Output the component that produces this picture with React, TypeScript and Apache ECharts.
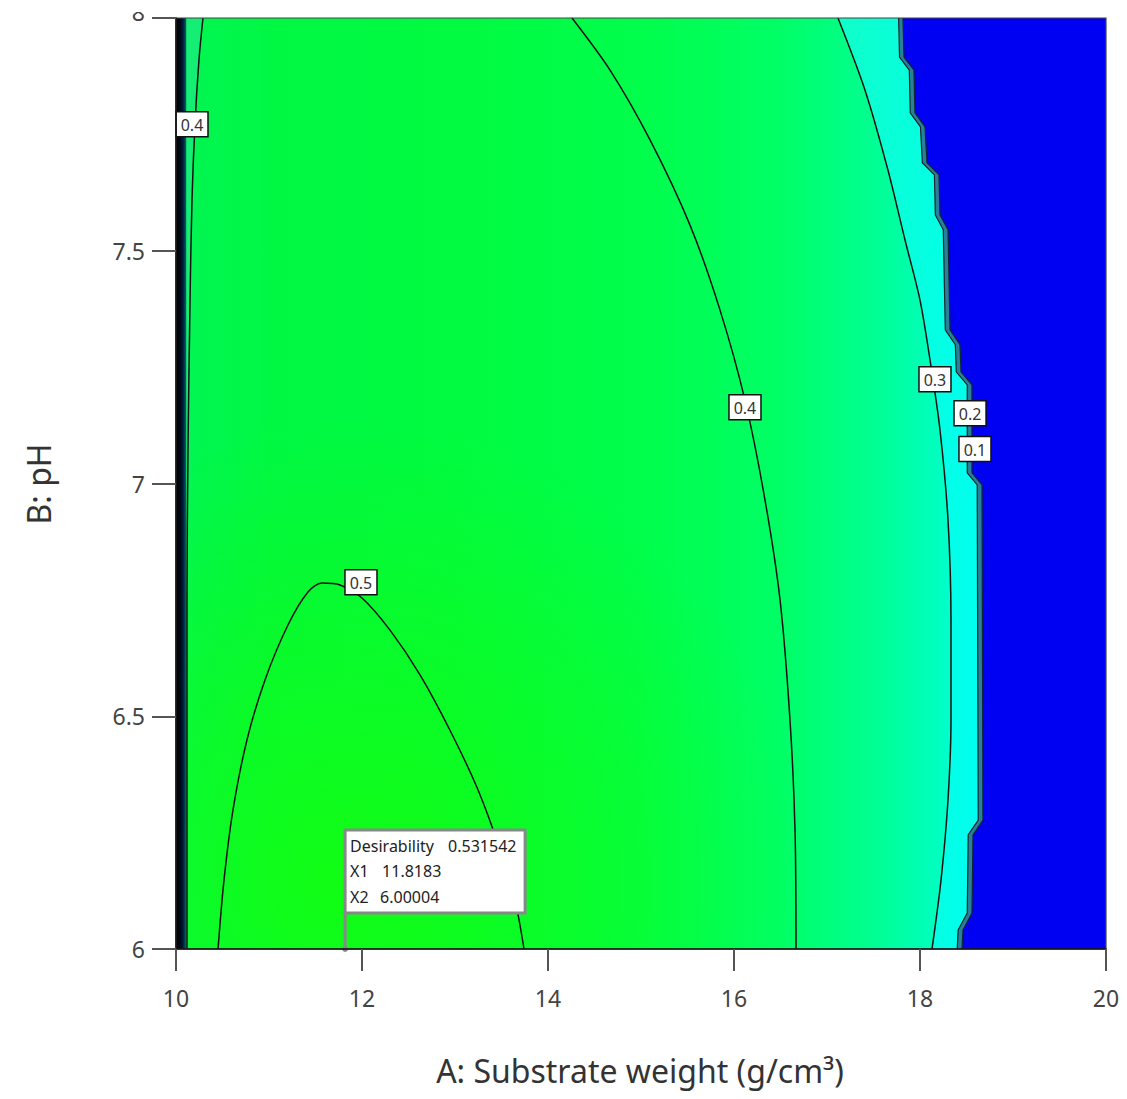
import React, { useEffect, useRef } from "react";
import * as echarts from "echarts";

const FONT = '"Noto Sans", "Open Sans", sans-serif';

const xTicks = [10, 12, 14, 16, 18, 20];
const yTicks = [6, 6.5, 7, 7.5, 8];

const contour05 = [
  [10.452, 6.0], [10.516, 6.148], [10.613, 6.299], [10.763, 6.449], [10.957, 6.578],
  [11.204, 6.696], [11.419, 6.767], [11.57, 6.786], [11.763, 6.782], [12.0, 6.754],
  [12.301, 6.685], [12.624, 6.589], [12.946, 6.47], [13.247, 6.342], [13.484, 6.213],
  [13.645, 6.105], [13.742, 6.0],
];
const contour04Mid = [
  [14.258, 8.0], [14.667, 7.888], [15.097, 7.738], [15.527, 7.555], [15.849, 7.373],
  [16.118, 7.179], [16.333, 6.965], [16.495, 6.75], [16.602, 6.492], [16.656, 6.256],
  [16.667, 6.0],
];
const contour04Left = [
  [10.29, 8.0], [10.247, 7.91], [10.204, 7.772], [10.172, 7.609], [10.151, 7.394],
  [10.129, 7.072], [10.118, 6.75], [10.118, 6.32], [10.118, 6.0],
];
const contour03 = [
  [17.118, 8.0], [17.409, 7.845], [17.656, 7.673], [17.839, 7.523], [18.0, 7.394],
  [18.108, 7.265], [18.215, 7.115], [18.301, 6.922], [18.333, 6.707], [18.333, 6.492],
  [18.301, 6.32], [18.226, 6.148], [18.129, 6.0],
];
const contour02 = [
  [17.77, 8.0], [17.78, 7.916], [17.885, 7.888], [17.895, 7.796], [18.005, 7.766],
  [18.025, 7.689], [18.155, 7.663], [18.165, 7.577], [18.25, 7.545], [18.272, 7.33],
  [18.38, 7.298], [18.39, 7.24], [18.508, 7.212], [18.508, 7.023], [18.615, 6.997],
  [18.626, 6.277], [18.518, 6.245], [18.508, 6.077], [18.41, 6.041], [18.4, 6.0],
];
const contour01 = [
  [17.817, 8.0], [17.828, 7.916], [17.935, 7.888], [17.946, 7.796], [18.054, 7.766],
  [18.075, 7.689], [18.204, 7.663], [18.215, 7.577], [18.301, 7.545], [18.323, 7.33],
  [18.43, 7.298], [18.441, 7.24], [18.559, 7.212], [18.559, 7.023], [18.667, 6.997],
  [18.677, 6.277], [18.57, 6.245], [18.559, 6.077], [18.462, 6.041], [18.452, 6.0],
];
const contourLabels = [
  { value: [10.172, 7.772], name: "0.4" },
  { value: [11.989, 6.788], name: "0.5" },
  { value: [16.118, 7.164], name: "0.4" },
  { value: [18.161, 7.224], name: "0.3" },
  { value: [18.538, 7.151], name: "0.2" },
  { value: [18.591, 7.074], name: "0.1" },
];
const flagPoint = [11.8183, 6.00004];
const flagLines = [
  ["Desirability", "0.531542"],
  ["X1", "11.8183"],
  ["X2", "6.00004"],
];
const plotCorners = [[10, 8], [20, 6]];
const stripEdge = 10.11;

function polySeries(pts: number[][], style: any, z = 2) {
  return {
    type: "custom",
    silent: true,
    z,
    clip: true,
    data: pts,
    renderItem: (params: any, api: any) => {
      if (params.dataIndex !== 0) return null;
      return {
        type: "polygon",
        shape: { points: pts.map((p) => api.coord(p)) },
        style,
      };
    },
  };
}

function rectSeries(style: any, z = 2) {
  return {
    type: "custom",
    silent: true,
    z,
    clip: false,
    data: plotCorners,
    renderItem: (params: any, api: any) => {
      if (params.dataIndex !== 0) return null;
      const a = api.coord(plotCorners[0]);
      const b = api.coord(plotCorners[1]);
      return {
        type: "rect",
        shape: { x: a[0], y: a[1], width: b[0] - a[0], height: b[1] - a[1] },
        style,
      };
    },
  };
}

function lineSeries(pts: number[][], smooth: number | boolean, color = "#111", width = 1.5) {
  return {
    type: "line",
    data: pts,
    showSymbol: false,
    symbol: "none",
    smooth,
    silent: true,
    z: 5,
    lineStyle: { color, width },
  };
}

export default function App() {
  const ref = useRef<HTMLDivElement>(null);
  useEffect(() => {
    if (!ref.current) return;
    const chart = echarts.init(ref.current, undefined, { renderer: "svg" });

    const baseGradient = {
      type: "linear", x: 0, y: 0, x2: 1, y2: 0,
      colorStops: [
        { offset: 0, color: "#10f070" },
        { offset: 0.02, color: "#00f650" },
        { offset: 0.1, color: "#00f844" },
        { offset: 0.3, color: "#00fb40" },
        { offset: 0.5, color: "#00fe4c" },
        { offset: 0.65, color: "#00ff66" },
        { offset: 0.75, color: "#00ff92" },
        { offset: 0.82, color: "#00ffc0" },
        { offset: 0.86, color: "#00ffe8" },
        { offset: 1, color: "#00ffff" },
      ],
    };

    const yellowGlow = {
      type: "radial", x: 0.18, y: 0.93, r: 0.5,
      colorStops: [
        { offset: 0, color: "rgba(25,255,0,0.7)" },
        { offset: 0.6, color: "rgba(25,255,0,0.3)" },
        { offset: 1, color: "rgba(25,255,0,0)" },
      ],
    };

    const stripGradient = {
      type: "linear", x: 0, y: 0, x2: 1, y2: 0,
      colorStops: [
        { offset: 0, color: "#000000" },
        { offset: 0.45, color: "#000818" },
        { offset: 0.75, color: "#00264a" },
        { offset: 1, color: "#0a6a5a" },
      ],
    };

    const cyanGradient = {
      type: "linear", x: 0, y: 0, x2: 1, y2: 0,
      colorStops: [
        { offset: 0, color: "#10ffc8" },
        { offset: 1, color: "#00fff0" },
      ],
    };

    const series: any[] = [
      rectSeries({ fill: baseGradient }, 1),
      rectSeries({ fill: yellowGlow }, 1),
      polySeries(
        [[stripEdge, 8], ...contour04Left, [stripEdge, 6]],
        { fill: "#14ee74" },
        2
      ),
      {
        type: "custom",
        silent: true,
        z: 2,
        data: plotCorners,
        renderItem: (params: any, api: any) => {
          if (params.dataIndex !== 0) return null;
          const a = api.coord([10, 8]);
          const b = api.coord([stripEdge, 6]);
          return {
            type: "rect",
            shape: { x: a[0], y: a[1], width: b[0] - a[0], height: b[1] - a[1] },
            style: { fill: stripGradient },
          };
        },
      },
      polySeries([...contour03, ...contour02.slice().reverse()], { fill: cyanGradient }, 2),
      polySeries([...contour02, ...contour01.slice().reverse()], { fill: "#2a8098" }, 2),
      polySeries([...contour01, [20, 6], [20, 8]], { fill: "#0000f2" }, 2),
      lineSeries(contour05, 0.3),
      lineSeries(contour04Mid, 0.3),
      lineSeries(contour04Left, 0.3),
      lineSeries(contour03, 0.3),
      lineSeries(contour02, false, "#102530", 1.2),
      lineSeries(contour01, false, "#102530", 1.2),
      {
        type: "custom",
        silent: true,
        z: 6,
        clip: false,
        data: contourLabels.map((d) => d.value),
        renderItem: (params: any, api: any) => {
          const d = contourLabels[params.dataIndex];
          const p = api.coord(d.value);
          const w = 32;
          const h = 25;
          return {
            type: "group",
            children: [
              {
                type: "rect",
                shape: { x: p[0] - w / 2, y: p[1] - h / 2, width: w, height: h },
                style: { fill: "#ffffff", stroke: "#111", lineWidth: 1.5 },
              },
              {
                type: "text",
                x: p[0],
                y: p[1] + 0.5,
                style: {
                  text: d.name,
                  font: `16px ${FONT}`,
                  fill: "#333",
                  textAlign: "center",
                  textVerticalAlign: "middle",
                },
              },
            ],
          };
        },
      },
      {
        type: "custom",
        silent: true,
        z: 7,
        clip: false,
        data: [flagPoint],
        renderItem: (params: any, api: any) => {
          const p = api.coord(flagPoint);
          const bx = p[0];
          const by = p[1] - 119;
          const children: any[] = [
            {
              type: "line",
              shape: { x1: p[0], y1: p[1], x2: p[0], y2: by + 83 },
              style: { stroke: "#888", lineWidth: 3 },
            },
            { type: "circle", shape: { cx: p[0], cy: p[1], r: 3 }, style: { fill: "#888" } },
            {
              type: "rect",
              shape: { x: bx, y: by, width: 180, height: 83 },
              style: { fill: "#fff", stroke: "#888", lineWidth: 3 },
            },
          ];
          const valueOffsets = [103, 37, 35];
          flagLines.forEach((ln, i) => {
            const ty = by + 16 + i * 25.5;
            children.push({
              type: "text",
              x: bx + 5,
              y: ty,
              style: { text: ln[0], fill: "#222", font: `16px ${FONT}`, textVerticalAlign: "middle" },
            });
            children.push({
              type: "text",
              x: bx + valueOffsets[i],
              y: ty,
              style: { text: ln[1], fill: "#222", font: `16px ${FONT}`, textVerticalAlign: "middle" },
            });
          });
          return { type: "group", children };
        },
      },
      {
        type: "custom",
        silent: true,
        z: 8,
        clip: false,
        data: plotCorners,
        renderItem: (params: any, api: any) => {
          if (params.dataIndex !== 0) return null;
          const a = api.coord(plotCorners[0]);
          const b = api.coord(plotCorners[1]);
          return {
            type: "rect",
            shape: { x: a[0], y: a[1], width: b[0] - a[0], height: b[1] - a[1] },
            style: { fill: "none", stroke: "#444", lineWidth: 1.2 },
          };
        },
      },
    ];

    chart.setOption({
      animation: false,
      grid: { left: 176, top: 18, right: 21, bottom: 150 },
      xAxis: {
        type: "value",
        min: xTicks[0],
        max: xTicks[xTicks.length - 1],
        interval: 2,
        z: 10,
        axisLine: { show: true, lineStyle: { color: "#111", width: 1.5 } },
        axisTick: { show: true, length: 22, lineStyle: { color: "#555", width: 2 } },
        axisLabel: { margin: 37, fontSize: 23, color: "#444", fontFamily: FONT },
        splitLine: { show: false },
      },
      yAxis: {
        type: "value",
        min: yTicks[0],
        max: yTicks[yTicks.length - 1],
        interval: 0.5,
        z: 10,
        axisLine: { show: true, lineStyle: { color: "#111", width: 1.5 } },
        axisTick: { show: true, length: 24, lineStyle: { color: "#555", width: 2 } },
        axisLabel: {
          margin: 31,
          fontSize: 23,
          color: "#444",
          fontFamily: FONT,
          padding: [0, 0, 6, 0],
          formatter: (v: number) => (v === 8 ? "" : String(v)),
        },
        splitLine: { show: false },
      },
      graphic: [
        {
          type: "text",
          x: 145,
          y: 12,
          z: 50,
          style: { text: "8", font: `23px ${FONT}`, fill: "#444", textAlign: "right", textVerticalAlign: "middle" },
        },
        { type: "rect", z: 60, shape: { x: 100, y: 0, width: 60, height: 12 }, style: { fill: "#fff" } },
        {
          type: "text",
          x: 640,
          y: 1070,
          style: {
            text: "A: Substrate weight (g/cm³)",
            font: `32px ${FONT}`,
            fill: "#333",
            textAlign: "center",
            textVerticalAlign: "middle",
          },
        },
        {
          type: "text",
          x: 38,
          y: 484,
          rotation: Math.PI / 2,
          style: {
            text: "B: pH",
            font: `32px ${FONT}`,
            fill: "#333",
            textAlign: "center",
            textVerticalAlign: "middle",
          },
        },
      ],
      series,
    });
    return () => chart.dispose();
  }, []);
  return <div ref={ref} style={{ position: "absolute", left: 0, top: 0, width: 1127, height: 1099 }} />;
}
